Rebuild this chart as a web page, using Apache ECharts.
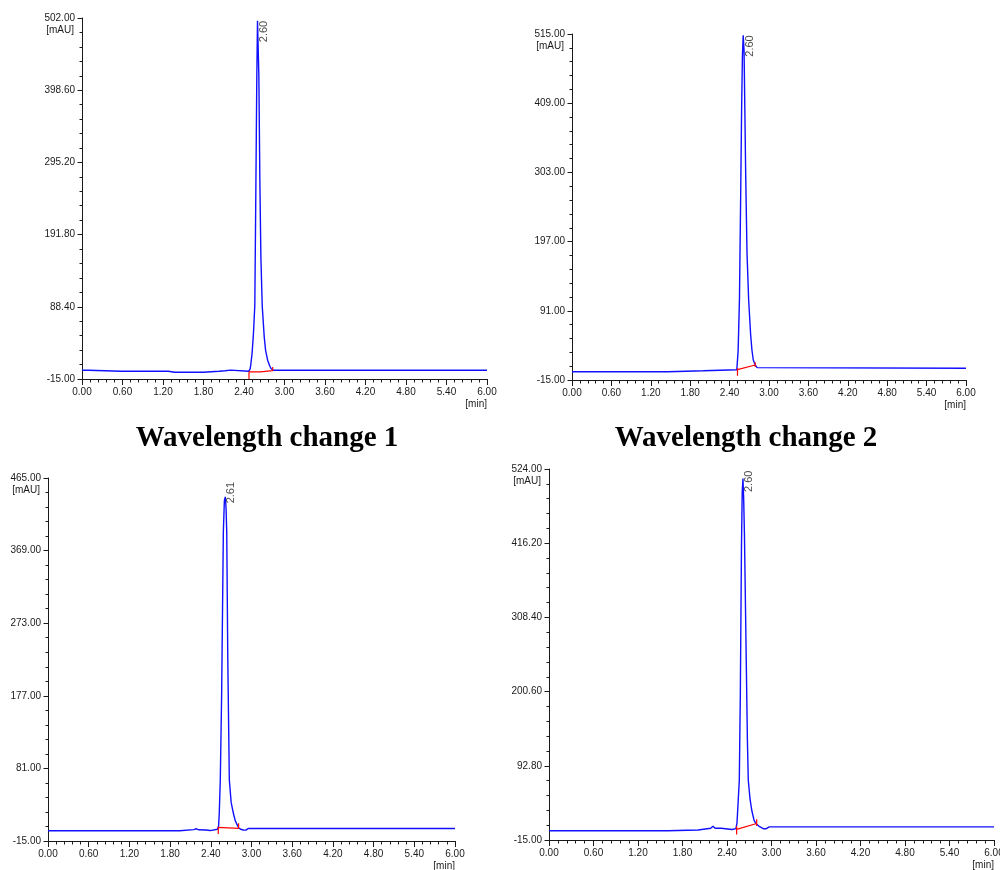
<!DOCTYPE html>
<html><head><meta charset="utf-8">
<script src="https://cdn.jsdelivr.net/npm/echarts@6/dist/echarts.min.js"></script>
<style>html,body{margin:0;padding:0;background:#fff}#c{width:1000px;height:870px}</style>
</head><body><div id="c"></div>
<script>
// ---------- data ----------
const panelTitles = ['Wavelength change 1', 'Wavelength change 2'];
const xMin = 0, xMax = 6, xInterval = 0.6;
const yMins = [-15, -15, -15, -15];
const yMaxs = [502, 515, 465, 524];
const yIntervals = [103.4, 106, 96, 107.8];
const peakLabels = ['2.60', '2.60', '2.61', '2.60'];
const xUnit = '[min]';
const yUnit = '[mAU]';

const time1 = [0, 0.10, 0.12, 0.58, 0.60, 0.62, 1.28, 1.30, 1.37, 1.38, 1.40, 1.80, 1.82, 2.03, 2.05, 2.12, 2.14, 2.20, 2.22, 2.47, 2.49, 2.50, 2.52, 2.54, 2.56, 2.575, 2.59, 2.60, 2.61, 2.62, 2.635, 2.65, 2.67, 2.70, 2.72, 2.75, 2.78, 2.80, 2.83, 6.00];
const signal1 = [-2.5, -2.5, -3.9, -3.9, -4.8, -3.9, -3.9, -5.4, -5.4, -4.4, -5.4, -5.4, -3.9, -3.9, -3.2, -3.2, -2.3, -2.3, -3.9, -3.9, -1.0, 5, 22, 50, 90, 250, 420, 498, 496, 420, 270, 160, 90, 45, 26, 12, 4, 0, -2.5, -2.5];
const baseTime1 = [2.474, 2.474, 2.64, 2.645, 2.825, 2.825];
const baseValue1 = [-15, -4.9, -4.9, -2.9, -2.9, 2.2];

const time2 = [0, 1.46, 1.47, 2.00, 2.01, 2.51, 2.52, 2.53, 2.55, 2.57, 2.583, 2.595, 2.607, 2.62, 2.632, 2.645, 2.665, 2.69, 2.72, 2.74, 2.76, 2.79, 2.82, 2.85, 6.00];
const signal2 = [-2.3, -2.3, -0.8, -0.8, 0.8, 0.8, 3, 30, 108, 280, 400, 480, 513, 490, 400, 300, 180, 108, 55, 31, 16, 8, 4, 2.9, 2.9];
const baseTime2 = [2.52, 2.52, 2.52, 2.79, 2.79, 2.79];
const baseValue2 = [3, -8.4, 0.8, 8, 12, 5];

const time3 = [0, 1.94, 1.95, 2.15, 2.19, 2.22, 2.33, 2.35, 2.39, 2.41, 2.50, 2.515, 2.525, 2.54, 2.56, 2.585, 2.60, 2.614, 2.625, 2.635, 2.65, 2.673, 2.70, 2.732, 2.76, 2.78, 2.81, 2.84, 2.88, 2.92, 2.95, 6.00];
const signal3 = [-1.4, -1.4, -0.2, 0, 1.2, -0.2, -0.5, -1.4, -1.2, 0.4, 0.6, 5, 22, 66, 180, 394, 435, 440, 425, 394, 230, 66, 36, 22, 12, 8, 2.6, 0.5, -0.5, -0.6, 1.6, 1.6];
const baseTime3 = [2.51, 2.51, 2.51, 2.81, 2.81];
const baseValue3 = [-5.7, 3.1, 1.8, 1.8, 8.4];

const time4 = [0, 1.60, 1.61, 2.01, 2.02, 2.18, 2.21, 2.24, 2.32, 2.33, 2.47, 2.49, 2.52, 2.535, 2.55, 2.566, 2.58, 2.595, 2.605, 2.615, 2.625, 2.635, 2.655, 2.675, 2.687, 2.71, 2.733, 2.764, 2.79, 2.84, 2.89, 2.93, 2.97, 6.00];
const signal4 = [-1.5, -1.5, -0.5, -0.5, 2.0, 2.0, 5.0, 2.0, 2.0, 0.3, 0.3, 1.5, 1.5, 10, 40, 72, 200, 410, 490, 510, 480, 430, 280, 130, 72, 45, 28.6, 14, 9, 4.3, 1.4, 1.4, 4.0, 4.0];
const baseTime4 = [2.53, 2.53, 2.53, 2.80, 2.80, 2.80];
const baseValue4 = [5, -7, 0.5, 9, 15, 5.5];

// ---------- layout / style ----------
const grids = [
  {left: 82, top: 18, width: 405, height: 361},
  {left: 572, top: 34, width: 394, height: 346},
  {left: 48, top: 478, width: 407, height: 363},
  {left: 549, top: 469, width: 445, height: 371}
];
const labelOffsets = [[0, 1], [0, 1], [15, 0], [8, 1]];
const titlePos = [{left: 267, top: 424}, {left: 746, top: 424}];

const times = [time1, time2, time3, time4];
const signals = [signal1, signal2, signal3, signal4];
const baseTimes = [baseTime1, baseTime2, baseTime3, baseTime4];
const baseValues = [baseValue1, baseValue2, baseValue3, baseValue4];

const zip = (a, b) => a.map((v, i) => [v, b[i]]);
const font = 'Liberation Sans, Arial, sans-serif';
const ink = '#1a1a1a';

const option = {
  animation: false,
  backgroundColor: '#fff',
  title: panelTitles.map((t, i) => ({
    text: t, left: titlePos[i].left, top: titlePos[i].top, textAlign: 'center', padding: 0,
    textStyle: {fontFamily: 'Liberation Serif, Times New Roman, serif', fontWeight: 'bold', fontSize: 29, color: '#000'}
  })),
  grid: grids.map(g => Object.assign({outerBoundsMode: 'none', containLabel: false}, g)),
  xAxis: grids.map((g, i) => ({
    type: 'value', gridIndex: i, min: xMin, max: xMax, interval: xInterval,
    axisLine: {show: true, onZero: false, lineStyle: {color: ink, width: 1}},
    axisTick: {show: true, length: 6, lineStyle: {color: ink, width: 1}},
    minorTick: {show: true, splitNumber: 5, length: 3.5, lineStyle: {color: ink, width: 1}},
    splitLine: {show: false}, minorSplitLine: {show: false},
    axisLabel: {fontSize: 10, color: ink, fontFamily: font, margin: 8, formatter: v => v.toFixed(2)},
    name: xUnit, nameLocation: 'end', nameGap: 0, nameMoveOverlap: false,
    nameTextStyle: {fontSize: 10, color: ink, fontFamily: font, align: 'right', verticalAlign: 'top', padding: [20, 0, 0, 0]}
  })),
  yAxis: grids.map((g, i) => ({
    type: 'value', gridIndex: i, min: yMins[i], max: yMaxs[i], interval: yIntervals[i],
    axisLine: {show: true, onZero: false, lineStyle: {color: ink, width: 1}},
    axisTick: {show: true, length: 4.5, lineStyle: {color: ink, width: 1}},
    minorTick: {show: true, splitNumber: 5, length: 2.5, lineStyle: {color: ink, width: 1}},
    splitLine: {show: false}, minorSplitLine: {show: false},
    axisLabel: {fontSize: 10, color: ink, fontFamily: font, margin: 7, formatter: v => v.toFixed(2)},
    name: yUnit, nameLocation: 'end', nameGap: -7, nameMoveOverlap: false,
    nameTextStyle: {fontSize: 10, color: ink, fontFamily: font, align: 'right', verticalAlign: 'top', padding: [0, 8, 0, 0]}
  })),
  series: []
};

for (let i = 0; i < 4; i++) {
  const sig = signals[i];
  let k = 0;
  sig.forEach((v, j) => { if (v > sig[k]) k = j; });
  option.series.push({
    type: 'line', xAxisIndex: i, yAxisIndex: i, data: zip(times[i], sig),
    showSymbol: false, symbol: 'none', lineStyle: {color: '#1010ff', width: 1.4}, z: 2
  });
  option.series.push({
    type: 'line', xAxisIndex: i, yAxisIndex: i, data: zip(baseTimes[i], baseValues[i]),
    showSymbol: false, symbol: 'none', lineStyle: {color: '#ff0000', width: 1.2}, z: 3
  });
  option.series.push({
    type: 'scatter', xAxisIndex: i, yAxisIndex: i, data: [[times[i][k], sig[k]]],
    symbolSize: 1, itemStyle: {color: 'rgba(0,0,0,0)'}, z: 4, silent: true,
    label: {show: true, formatter: peakLabels[i], position: 'inside', rotate: 90,
      align: 'right', verticalAlign: 'top', offset: labelOffsets[i],
      fontSize: 11, fontFamily: font, color: ink}
  });
}

const chart = echarts.init(document.getElementById('c'), null, {renderer: 'canvas'});
chart.setOption(option);
</script>
</body></html>
